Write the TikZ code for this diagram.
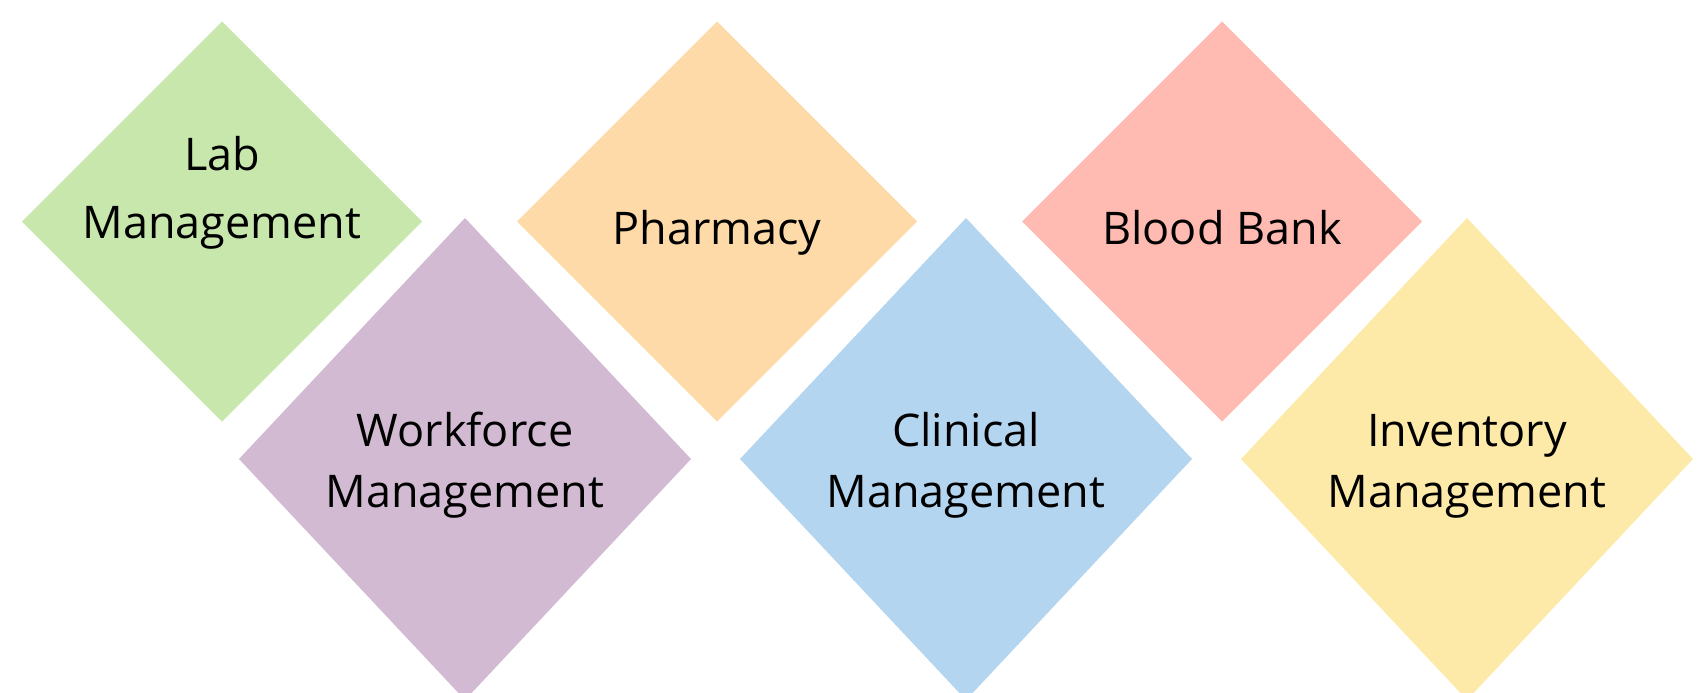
\documentclass[tikz,border=0pt]{standalone}
\usepackage{fontspec}
\setmainfont{Open Sans}
\usetikzlibrary{shapes.geometric}
\definecolor{cgreen}{HTML}{C7E7AD}
\definecolor{corange}{HTML}{FDDAA8}
\definecolor{cpink}{HTML}{FFBAB2}
\definecolor{cpurple}{HTML}{D2BBD2}
\definecolor{cblue}{HTML}{B3D5F0}
\definecolor{cyellow}{HTML}{FEEAA8}
\tikzset{
  topdia/.style={diamond, draw=none, inner sep=0pt, outer sep=0pt, minimum width=400pt, minimum height=400pt},
  botdia/.style={diamond, draw=none, inner sep=0pt, outer sep=0pt, minimum width=452pt, minimum height=482pt},
  toplbl/.style={anchor=base, align=center, inner sep=0pt, font=\fontsize{45}{68}\selectfont},
  botlbl/.style={anchor=base, align=center, inner sep=0pt, font=\fontsize{45}{61}\selectfont}
}
\begin{document}
\begin{tikzpicture}[x=1pt,y=-1pt]
\useasboundingbox (0,0) rectangle (1705,693);
\clip (0,0) rectangle (1705,693);
\node[topdia, fill=cgreen] (lab) at (222,221.5) {};
\node[topdia, fill=corange] (pharm) at (717,221.5) {};
\node[topdia, fill=cpink] (blood) at (1222,221.5) {};
\node[botdia, fill=cpurple] (work) at (465,459) {};
\node[botdia, fill=cblue] (clin) at (966,459) {};
\node[botdia, fill=cyellow] (inv) at (1467,459) {};
\node[toplbl] (labt) at (222,238) {Lab\\Management};
\node[toplbl] (pharmt) at (717,244) {Pharmacy};
\node[toplbl] (bloodt) at (1222,244) {Blood Bank};
\node[botlbl] (workt) at (465,507) {Workforce\\Management};
\node[botlbl] (clint) at (966,507) {Clinical\\Management};
\node[botlbl] (invt) at (1467,507) {Inventory\\Management};
\end{tikzpicture}
\end{document}
